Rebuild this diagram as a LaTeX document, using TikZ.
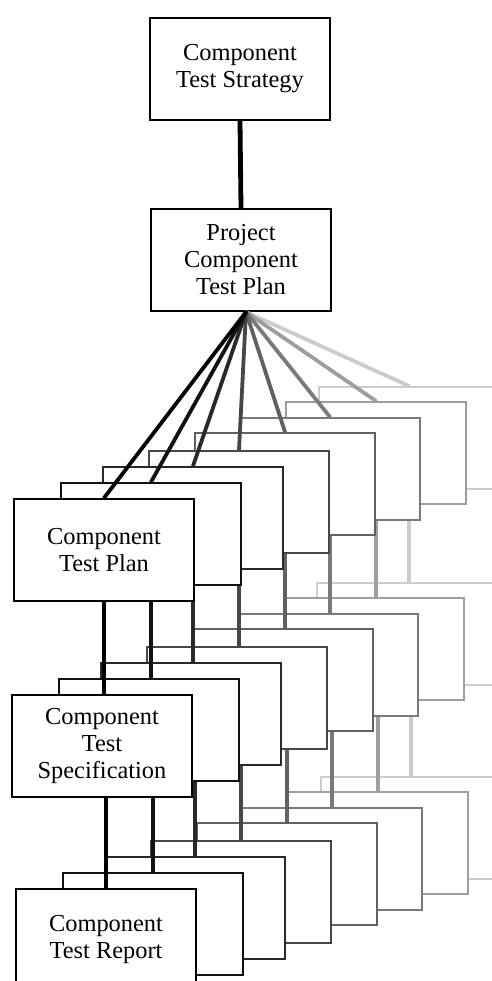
\documentclass[tikz,border=0pt]{standalone}
\usepackage{fontspec}
\setmainfont{Liberation Serif}
\usetikzlibrary{positioning}
\begin{document}
\begin{tikzpicture}[x=0.5pt,y=-0.5pt,
    box/.style={draw,fill=white,line width=1pt,minimum width=90pt,minimum height=51pt,
        align=center,inner sep=2pt,font=\fontsize{12.2}{13.5}\selectfont},
    link/.style={line width=1.9pt,line cap=round}]
    \useasboundingbox (0,0) rectangle (492,981);
    % top of the tree
    \node[box,anchor=north west] (strat) at (149,17) {Component\\Test Strategy};
    \node[box,anchor=north west] (proj) at (150,208) {Project\\Component\\Test Plan};
    \draw[line width=2.4pt] (strat.south) -- (proj.north);
    \coordinate (fan) at ([xshift=2.5pt]proj.south);
    % stacks of component documents, back to front
    \foreach \k/\x/\y/\g in {7/318/386/20,6/285/401/38,5/239/417/52,4/194/432/62,
        3/148/450/72,2/102/466/84,1/60/482/93,0/13/498/100} {
    \scope[black!\g]
    \node[box,anchor=north west] (p\k) at (\x,\y) {\ifnum\k=0 Component\\Test Plan\fi};
    \node[box,below=46pt of p\k,xshift=-1pt] (s\k) {\ifnum\k=0 Component\\Test\\Specification\fi};
    \node[box,below=45pt of s\k,xshift=2pt] (r\k) {\ifnum\k=0 Component\\Test Report\fi};
    \draw[link] (fan) -- (p\k.north);
    \draw[link] (p\k.south) -- (p\k.south |- s\k.north);
    \draw[link] (r\k.north |- s\k.south) -- (r\k.north);
    \endscope
    }
\end{tikzpicture}
\end{document}
